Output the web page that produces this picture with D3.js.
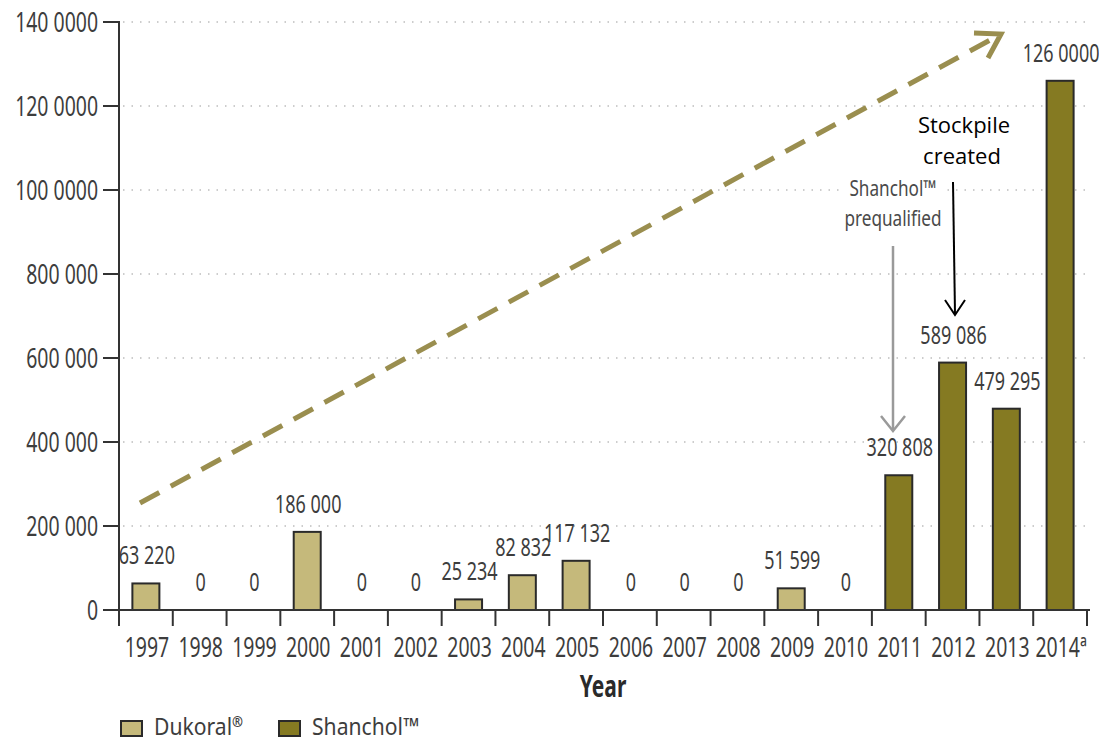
<!DOCTYPE html>
<html>
<head>
<meta charset="utf-8">
<script src="https://cdn.jsdelivr.net/npm/d3@7"></script>
<style>
  html, body { margin: 0; padding: 0; background: #fff; }
  svg { display: block; }
</style>
</head>
<body>
<svg id="chart" width="1099" height="743"></svg>
<script>
// ---- data ----
const years = ["1997","1998","1999","2000","2001","2002","2003","2004","2005","2006","2007","2008","2009","2010","2011","2012","2013","2014"];
const yearLabels = ["1997","1998","1999","2000","2001","2002","2003","2004","2005","2006","2007","2008","2009","2010","2011","2012","2013","2014ª"];
const doses = [63220,0,0,186000,0,0,25234,82832,117132,0,0,0,51599,0,320808,589086,479295,1260000];
const vaccine = ["Dukoral","Dukoral","Dukoral","Dukoral","Dukoral","Dukoral","Dukoral","Dukoral","Dukoral","Dukoral","Dukoral","Dukoral","Dukoral","Dukoral","Shanchol","Shanchol","Shanchol","Shanchol"];
const valueLabels = ["63 220","0","0","186 000","0","0","25 234","82 832","117 132","0","0","0","51 599","0","320 808","589 086","479 295","126 0000"];
const yTicks = [0,200000,400000,600000,800000,1000000,1200000,1400000];
const yTickLabels = ["0","200 000","400 000","600 000","800 000","100 0000","120 0000","140 0000"];
const legendNames = ["Dukoral","Shanchol™"];
const legendMarks = ["®",""];
const legendKeys = ["Dukoral","Shanchol"];
const colors = {Dukoral: "#c5b97b", Shanchol: "#857a22"};

(function () {
const svg = d3.select("#chart");
const mLeft = 119, mRight = 1087, mTop = 22, mBottom = 610;

const xb = d3.scaleBand().domain(years).range([mLeft, mRight]).padding(0);
const y = d3.scaleLinear().domain([0, 1400000]).range([mBottom, mTop]);

const font = '"Noto Sans", "Open Sans", "DejaVu Sans", sans-serif';
const textCol = "#3d3d3d";
const SX = 0.72;

// condensed text helper: horizontally compressed humanist sans
function ctext(g, x, yy, str, size, anchor, opts) {
  opts = opts || {};
  return g.append("text")
    .attr("transform", `translate(${x},${yy}) scale(${opts.sx || SX},1)`)
    .attr("text-anchor", anchor || "middle")
    .attr("font-family", font)
    .attr("font-size", size)
    .attr("font-weight", opts.weight || "normal")
    .attr("fill", opts.fill || textCol)
    .text(str);
}

// gridlines (dotted)
svg.append("g").selectAll("line").data(yTicks.slice(1)).join("line")
  .attr("x1", mLeft + 4).attr("x2", 1092)
  .attr("y1", d => y(d)).attr("y2", d => y(d))
  .attr("stroke", "#bdbdbd").attr("stroke-width", 1.5)
  .attr("stroke-dasharray", "1.5,7");

// bars
svg.append("g").selectAll("rect").data(years).join("rect")
  .attr("x", d => xb(d) + xb.bandwidth()/2 - 13.5)
  .attr("width", 27)
  .attr("y", (d,i) => y(doses[i]))
  .attr("height", (d,i) => y(0) - y(doses[i]))
  .attr("fill", (d,i) => colors[vaccine[i]])
  .attr("stroke", "#2a2a2a").attr("stroke-width", 2)
  .attr("display", (d,i) => doses[i] > 0 ? null : "none");

// value labels
const gv = svg.append("g");
years.forEach((d, i) => {
  ctext(gv, xb(d) + xb.bandwidth()/2 + 1, y(doses[i]) - 19, valueLabels[i], 25);
});

// y axis
const gy = svg.append("g");
yTicks.forEach((t, i) => {
  gy.append("line").attr("x1", mLeft - 16).attr("x2", mLeft).attr("y1", y(t)).attr("y2", y(t))
    .attr("stroke", "#333").attr("stroke-width", 2);
  ctext(gy, 98, y(t) + 10, yTickLabels[i], 27, "end");
});
svg.append("line").attr("x1", mLeft).attr("x2", mLeft).attr("y1", mTop - 1).attr("y2", 626)
  .attr("stroke", "#333").attr("stroke-width", 2);

// x axis with ticks at band boundaries
svg.append("line").attr("x1", mLeft - 16).attr("x2", 1090).attr("y1", mBottom).attr("y2", mBottom)
  .attr("stroke", "#333").attr("stroke-width", 2);
const bounds = years.map(d => xb(d)).concat([mRight]);
svg.append("g").selectAll("line").data(bounds.slice(1)).join("line")
  .attr("x1", d => d).attr("x2", d => d).attr("y1", mBottom).attr("y2", 626)
  .attr("stroke", "#333").attr("stroke-width", 2);
const gx = svg.append("g");
years.forEach((d, i) => {
  ctext(gx, xb(d) + xb.bandwidth()/2 + 1, 657, yearLabels[i], 27);
});

ctext(svg, 603, 697, "Year", 30, "middle", {weight: "bold", fill: "#2a2a2a", sx: 0.7});

// dashed trend arrow
const arrowCol = "#9a8e4f";
svg.append("line").attr("x1", 140).attr("y1", 503).attr("x2", 992).attr("y2", 39)
  .attr("stroke", arrowCol).attr("stroke-width", 5).attr("stroke-dasharray", "22,13");
svg.append("path").attr("d", "M974,33 L1001,34 L988,58")
  .attr("fill", "none").attr("stroke", arrowCol).attr("stroke-width", 5).attr("stroke-linejoin", "miter");

// Shanchol prequalified annotation (white backing over gridline)
svg.append("rect").attr("x", 841).attr("y", 176).attr("width", 105).attr("height", 56).attr("fill", "#fff");
ctext(svg, 893, 196, "Shanchol™", 22, "middle", {fill: "#4a4a4a", sx: 0.78});
ctext(svg, 893, 226, "prequalified", 22, "middle", {fill: "#4a4a4a", sx: 0.78});
svg.append("line").attr("x1", 893).attr("y1", 246).attr("x2", 893).attr("y2", 430)
  .attr("stroke", "#9a9a9a").attr("stroke-width", 2.5);
svg.append("path").attr("d", "M881,416 L893,431 L905,416")
  .attr("fill", "none").attr("stroke", "#9a9a9a").attr("stroke-width", 2.5);

// Stockpile created annotation
const sFont = '"Open Sans", "Liberation Sans", sans-serif';
svg.append("text").attr("x", 964).attr("y", 133).attr("text-anchor", "middle")
  .attr("font-family", sFont).attr("font-size", 22).attr("fill", "#000").text("Stockpile");
svg.append("text").attr("x", 962).attr("y", 164).attr("text-anchor", "middle")
  .attr("font-family", sFont).attr("font-size", 22).attr("fill", "#000").text("created");
svg.append("line").attr("x1", 953).attr("y1", 182).attr("x2", 955).attr("y2", 314)
  .attr("stroke", "#000").attr("stroke-width", 2);
svg.append("path").attr("d", "M945,300 L955,315 L965,300")
  .attr("fill", "none").attr("stroke", "#000").attr("stroke-width", 2);

// legend
const lg = svg.append("g");
const lx = [121, 279];
legendKeys.forEach((k, i) => {
  lg.append("rect").attr("x", lx[i]).attr("y", 721).attr("width", 21).attr("height", 15)
    .attr("fill", colors[k]).attr("stroke", "#2a2a2a").attr("stroke-width", 2);
  const t = ctext(lg, lx[i] + 33, 735, legendNames[i], 24, "start", {sx: 0.88});
  if (legendMarks[i]) {
    t.append("tspan").attr("font-size", 15).attr("font-weight", "bold").attr("dy", -8).text(legendMarks[i]);
  }
});
})();
</script>
</body>
</html>
